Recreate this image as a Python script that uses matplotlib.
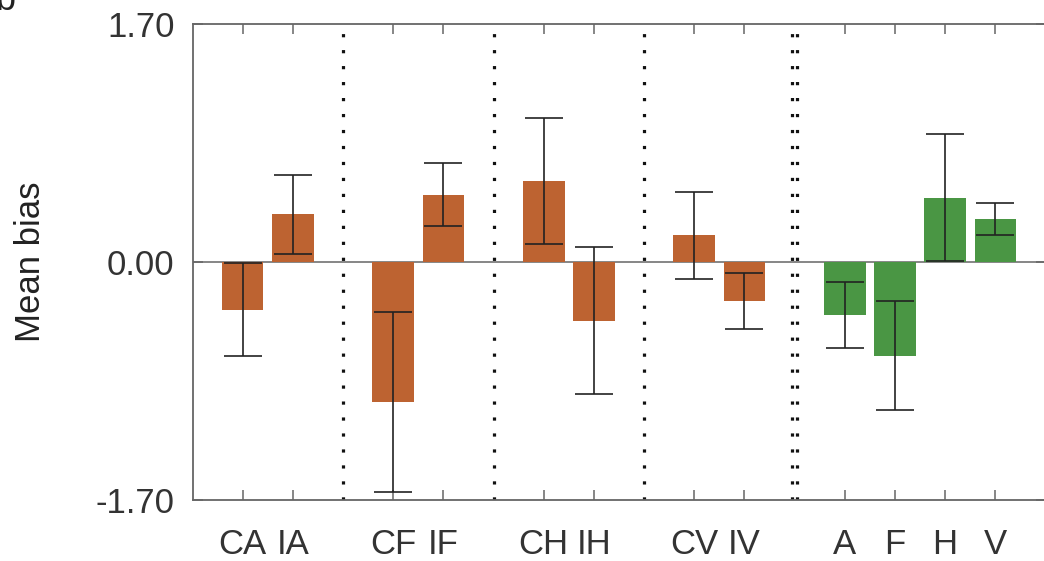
import numpy as np
import matplotlib
matplotlib.use("Agg")
import matplotlib.pyplot as plt

plt.rcParams['font.family'] = ['Liberation Sans', 'DejaVu Sans']

# data
labels = ['CA', 'IA', 'CF', 'IF', 'CH', 'IH', 'CV', 'IV', 'A', 'F', 'H', 'V']
positions = [1, 2, 4, 5, 7, 8, 10, 11, 13, 14, 15, 16]
means = [-0.34, 0.34, -1.00, 0.48, 0.58, -0.42, 0.19, -0.28, -0.38, -0.67, 0.46, 0.31]
errs = [0.33, 0.28, 0.645, 0.225, 0.45, 0.525, 0.31, 0.20, 0.235, 0.39, 0.455, 0.115]
groups = ['c', 'c', 'c', 'c', 'c', 'c', 'c', 'c', 'g', 'g', 'g', 'g']
separators = [3, 6, 9]
double_sep = 12

orange = '#BD6331'
green = '#4A9644'
axcol = '#666666'

fig = plt.figure(figsize=(10.44, 5.61), dpi=100)
ax = fig.add_axes([192.5/1044, 1 - 500/561, 853/1044, 476/561])

cols = [orange if g == 'c' else green for g in groups]
ax.axhline(0, color=axcol, lw=1.1, zorder=1)
ax.bar(positions, means, width=0.83, color=cols, edgecolor='none', zorder=2)
ax.errorbar(positions, means, yerr=errs, fmt='none', ecolor='#222222',
            elinewidth=1.2, capsize=14, capthick=1.2, zorder=3)

dot = (0, (1, 4))
for s in separators:
    ax.axvline(s, color='#111111', lw=2.3, linestyle=dot, zorder=1)
for d in (-0.055, 0.055):
    ax.axvline(double_sep + d, color='#111111', lw=2.3, linestyle=dot, zorder=1)

ax.set_xlim(0, 17)
ax.set_ylim(-1.7, 1.7)
ax.set_xticks(positions)
ax.set_xticklabels(labels)
ax.set_yticks([-1.7, 0, 1.7])
ax.set_yticklabels(['-1.70', '0.00', '1.70'])
ax.set_ylabel('Mean bias', fontsize=25, color='#222222', labelpad=35)

ax.tick_params(direction='in', length=7, width=1.1, color=axcol,
               labelsize=25, labelcolor='#333333', top=True, right=True)
ax.tick_params(axis='x', pad=20)
ax.tick_params(axis='y', pad=13)
for sp in ax.spines.values():
    sp.set_color(axcol)
    sp.set_linewidth(1.3)

fig.text(-0.004, 1 - 10/561, 'b', fontsize=26, color='#222222',
         ha='left', va='baseline')

fig.savefig('out.png', dpi=100)
